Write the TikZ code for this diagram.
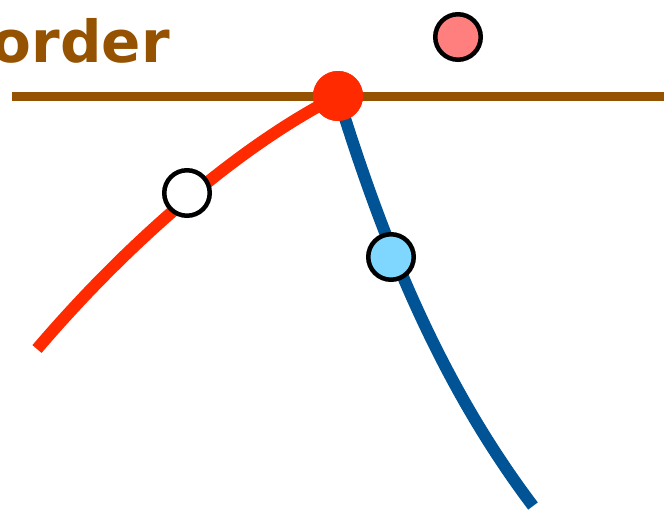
\documentclass[tikz,border=0pt]{standalone}
\usepackage{fontspec}
\newfontfamily\labelfont{DejaVu Sans}
\definecolor{borderbrown}{RGB}{149,82,0}
\definecolor{hitred}{RGB}{255,42,0}
\definecolor{rayblue}{RGB}{0,84,150}
\definecolor{skyblue}{RGB}{127,214,255}
\definecolor{salmon}{RGB}{255,127,127}

\begin{document}
\begin{tikzpicture}[x=1pt,y=-1pt,
    probe/.style={draw,circle,line width=4.5pt,minimum size=45.5pt,inner sep=0pt}]
  \useasboundingbox (0,0) rectangle (664,509);

  % border line and its label
  \node[anchor=base east,inner sep=0pt,text=borderbrown,
        font=\labelfont\bfseries\fontsize{58}{58}\selectfont] (title) at (170,62) {order};
  \coordinate (lineL) at (12,96);
  \coordinate (lineR) at (664,96);
  \draw[borderbrown,line width=9pt] (lineL) -- (lineR);

  % the two branches meeting at the border
  \node[circle,fill=hitred,minimum size=50pt,inner sep=0pt] (hit) at (338,96) {};
  \coordinate (redEnd) at (37,349);
  \coordinate (blueEnd) at (533,506);

  \draw[hitred,line width=12pt] (redEnd) .. controls (136,233) and (248,141) .. (hit.center);
  \draw[rayblue,line width=12pt] (hit.center) .. controls (375,215) and (430,370) .. (blueEnd);
  \node[circle,fill=hitred,minimum size=50pt,inner sep=0pt] at (hit) {};

  \node[probe,fill=white] (A) at (187,193) {};
  \node[probe,fill=skyblue] (B) at (391,257) {};
  \node[probe,fill=salmon] (C) at (458,37) {};

\end{tikzpicture}
\end{document}
